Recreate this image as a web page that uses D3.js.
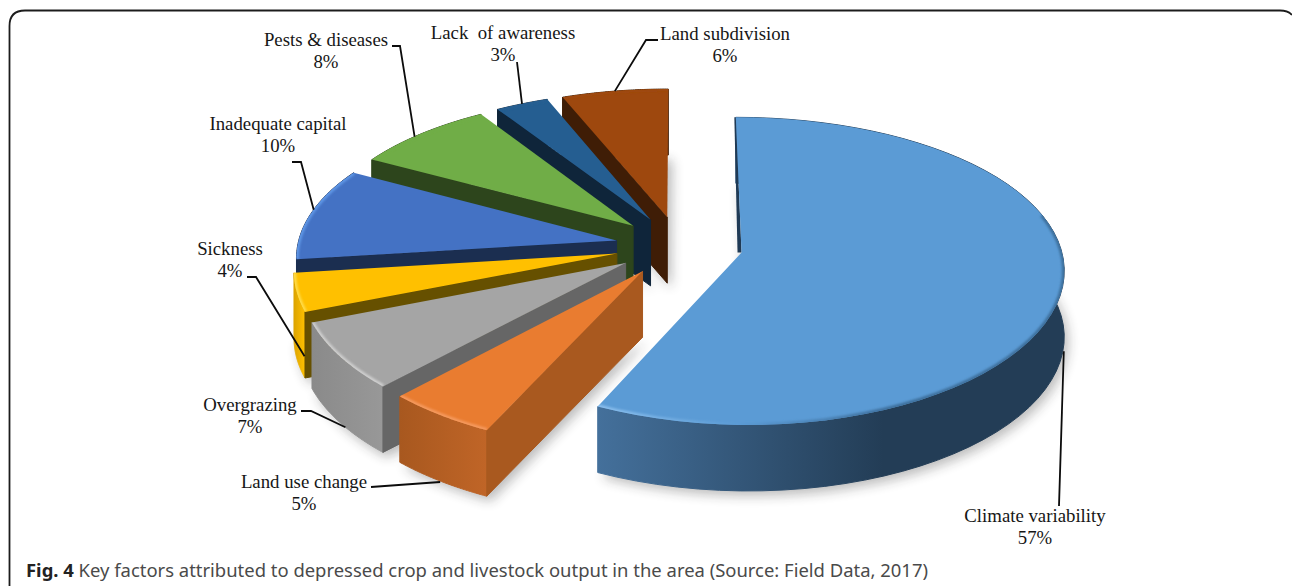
<!DOCTYPE html>
<html>
<head>
<meta charset="utf-8">
<script src="https://cdn.jsdelivr.net/npm/d3@7"></script>
<style>
  html, body { margin: 0; padding: 0; background: #fff; overflow: hidden; }
  svg { display: block; }
</style>
</head>
<body>
<script>
// Survey results, clockwise from twelve o'clock
const categories = ["Climate variability", "Land use change", "Overgrazing", "Sickness",
                    "Inadequate capital", "Pests & diseases", "Lack  of awareness", "Land subdivision"];
const percents = [57, 5, 7, 4, 10, 8, 3, 6];

// Slice styling, same order as the categories
const topColors = ["#5b9bd5", "#e97c30", "#a5a5a5", "#ffc000", "#4472c4", "#70ad47", "#255e91", "#9e480e"];
const radialWall = ["#1f3a55", "#a9591f", "#666666", "#665000", "#1b2e50", "#2d451c", "#0f253a", "#3f1d06"];
const outerWallA = ["#44709b", "#c06527", "#989898", "#ffc000", "#1b2e50", "#2d451c", "#0f253a", "#3f1d06"];
const outerWallB = ["#233d56", "#a8581f", "#8a8a8a", "#dca400", "#1b2e50", "#2d451c", "#0f253a", "#3f1d06"];
const rimColors  = ["#8cc0ee", "#f59a5e", "#cfcfcf", "#ffdc4a", "#5f97e6", "#70ad47", "#255e91", "#9e480e"];

// Label placement: centre x, first baseline
const labelX = [1035, 304, 250, 230, 278, 326, 503, 725];
const labelY = [522, 488, 411, 255, 130, 46, 39, 40];
// Leader lines: fixed points near the label, then a spot on the slice (fraction of its arc, drop down the wall)
const leaderFrom = [
  [[1059, 506]],
  [[371, 487]],
  [[301, 411], [311, 411]],
  [[247, 277], [256, 277]],
  [[292, 162], [301, 162]],
  [[392, 46], [400, 46]],
  [[517, 62]],
  [[658, 40], [646, 40]]
];
const leaderFrac = [0.487, 0.5, 0.42, 0.02, 0.54, 0.44, 0.5, 0.5];
const leaderDrop = [72, 67, 66, 45, 0, 0, 0, 0];

// Pie geometry
const width = 1292, height = 586;
const explode = 0.2;      // slice pull-out, in radius units
const tiltX = 0.1;        // perspective widening toward the viewer
const tiltY = 0.12;       // perspective stretch toward the viewer
const depth = 66;         // pixel height of the extruded walls

const px = d3.scaleLinear().domain([-1, 1]).range([679 - 319, 679 + 319]);
const py = d3.scaleLinear().domain([-1, 1]).range([246 - 150, 246 + 150]);

const slices = d3.pie().sort(null).value(d => d)(percents);

// Floor-plane point at angle a and radius r of a slice, pulled out along its bisector, then projected
function project(s, a, r) {
  const mid = (s.startAngle + s.endAngle) / 2;
  const u = r * Math.sin(a) + explode * Math.sin(mid);
  const v = -r * Math.cos(a) - explode * Math.cos(mid);
  return [px(u / (1 - tiltX * v)), py(v / (1 - tiltY * v))];
}
const line = d3.line();
const arcPoints = s => {
  const t = d3.scaleLinear().domain([0, 60]).range([s.startAngle, s.endAngle]);
  return d3.range(61).map(i => project(s, t(i), 1));
};
const shift = (pts, dy, dx = 0) => pts.map(p => [p[0] + dx, p[1] + dy]);

const svg = d3.select("body").append("svg").attr("width", width).attr("height", height);
const defs = svg.append("defs");
defs.append("filter").attr("id", "soft").attr("x", "-20%").attr("y", "-20%").attr("width", "140%").attr("height", "140%")
  .append("feGaussianBlur").attr("stdDeviation", 6);
defs.append("filter").attr("id", "rimBlur").attr("filterUnits", "userSpaceOnUse")
  .attr("x", 0).attr("y", 0).attr("width", width).attr("height", height)
  .append("feGaussianBlur").attr("stdDeviation", 1.1);

// Card outline around the figure
svg.append("path")
  .attr("d", "M9.5,586V26Q9.5,10.5,25,10.5H1280Q1288,10.5,1292,15")
  .attr("fill", "none").attr("stroke", "#1c1c1c").attr("stroke-width", 1.8);

// Soft ground shadow under every slice
const shadowLayer = svg.append("g").attr("filter", "url(#soft)").attr("opacity", 0.3);
slices.forEach(s => {
  const apex = project(s, s.startAngle, 0);
  shadowLayer.append("path")
    .attr("d", line(shift([apex, ...arcPoints(s)], depth + 5, 4)) + "Z")
    .attr("fill", "#222");
});

// Walls and faces, painted from the back of the pie to the front
const paintOrder = [7, 6, 5, 4, 3, 2, 1, 0];
paintOrder.forEach(i => {
  const s = slices[i];
  const g = svg.append("g");
  const arc = arcPoints(s);
  const apex = project(s, s.startAngle, 0);

  // Curved outer wall, shaded left to right
  const wallId = "wall" + i;
  const xs = arc.map(p => p[0]);
  const grad = defs.append("linearGradient").attr("id", wallId)
    .attr("gradientUnits", "userSpaceOnUse")
    .attr("x1", d3.min(xs)).attr("x2", i === 0 ? d3.min(xs) + 285 : d3.max(xs)).attr("y1", 0).attr("y2", 0);
  const leftDark = i >= 1 && i <= 3;
  grad.append("stop").attr("offset", 0).attr("stop-color", leftDark ? outerWallB[i] : outerWallA[i]);
  grad.append("stop").attr("offset", 1).attr("stop-color", leftDark ? outerWallA[i] : outerWallB[i]);
  g.append("path")
    .attr("d", line([...arc, ...shift(arc, depth).reverse()]) + "Z")
    .attr("fill", `url(#${wallId})`)
    .attr("stroke", `url(#${wallId})`).attr("stroke-width", 1).attr("stroke-linejoin", "round");

  // Flat radial wall below the leading edge of the slice
  const tip = arc[0];
  if (i > 0) {
    g.append("path")
      .attr("d", line([apex, tip, ...shift([tip], depth), ...shift([apex], depth)]) + "Z")
      .attr("fill", radialWall[i]).attr("stroke", radialWall[i]).attr("stroke-linejoin", "round");
  } else {
    // The big slice only shows a thin dark sliver along its first edge
    g.append("path")
      .attr("d", line([tip, apex, ...shift([apex], 0, -4), ...shift([tip], 0, -1.5)]) + "Z")
      .attr("fill", radialWall[i]);
  }

  // Top face
  const faceD = line([apex, ...arc]) + "Z";
  g.append("path").attr("d", faceD).attr("fill", topColors[i]);

  // Bevel highlight along the rim, kept inside the face
  const clipId = "face" + i;
  defs.append("clipPath").attr("id", clipId).append("path").attr("d", faceD);
  let rimStroke = rimColors[i];
  if (i === 0) {
    const rg = defs.append("linearGradient").attr("id", "rim0").attr("gradientUnits", "userSpaceOnUse")
      .attr("x1", d3.min(xs)).attr("x2", d3.max(xs)).attr("y1", 0).attr("y2", 0);
    rg.append("stop").attr("offset", 0).attr("stop-color", rimColors[0]);
    rg.append("stop").attr("offset", 0.3).attr("stop-color", "#5b9bd5");
    rg.append("stop").attr("offset", 0.62).attr("stop-color", "#3e6f9c");
    rg.append("stop").attr("offset", 0.98).attr("stop-color", "#3e6f9c");
    rimStroke = "url(#rim0)";
  }
  g.append("g").attr("clip-path", `url(#${clipId})`)
    .append("path")
    .attr("d", line(i === 0 ? arc.slice(22) : arc))
    .attr("fill", "none").attr("stroke", rimStroke).attr("stroke-width", 4.5)
    .attr("filter", "url(#rimBlur)");
});

// Leader lines
slices.forEach((s, i) => {
  const a = s.startAngle + (s.endAngle - s.startAngle) * leaderFrac[i];
  const p = project(s, a, 1);
  const pts = [...leaderFrom[i], [p[0], p[1] + leaderDrop[i]]];
  svg.append("path").attr("d", line(pts))
    .attr("fill", "none").attr("stroke", "#0c0c0c").attr("stroke-width", 1.8);
});

// Category and percentage labels
categories.forEach((c, i) => {
  const t = svg.append("text")
    .attr("text-anchor", "middle")
    .attr("font-family", "'Liberation Serif', serif")
    .attr("font-size", 18.8)
    .attr("fill", "#161616")
    .style("white-space", "pre");
  t.append("tspan").attr("x", labelX[i]).attr("y", labelY[i]).text(c);
  t.append("tspan").attr("x", labelX[i]).attr("y", labelY[i] + 22).text(percents[i] + "%");
});

// Caption
const cap = svg.append("text").attr("x", 26).attr("y", 577)
  .attr("font-family", "'Noto Sans', sans-serif").attr("font-size", 18.45).attr("fill", "#4a4a4a");
cap.append("tspan").attr("font-weight", 700).attr("fill", "#222").text("Fig. 4");
cap.append("tspan").text(" Key factors attributed to depressed crop and livestock output in the area (Source: Field Data, 2017)");
</script>
</body>
</html>
